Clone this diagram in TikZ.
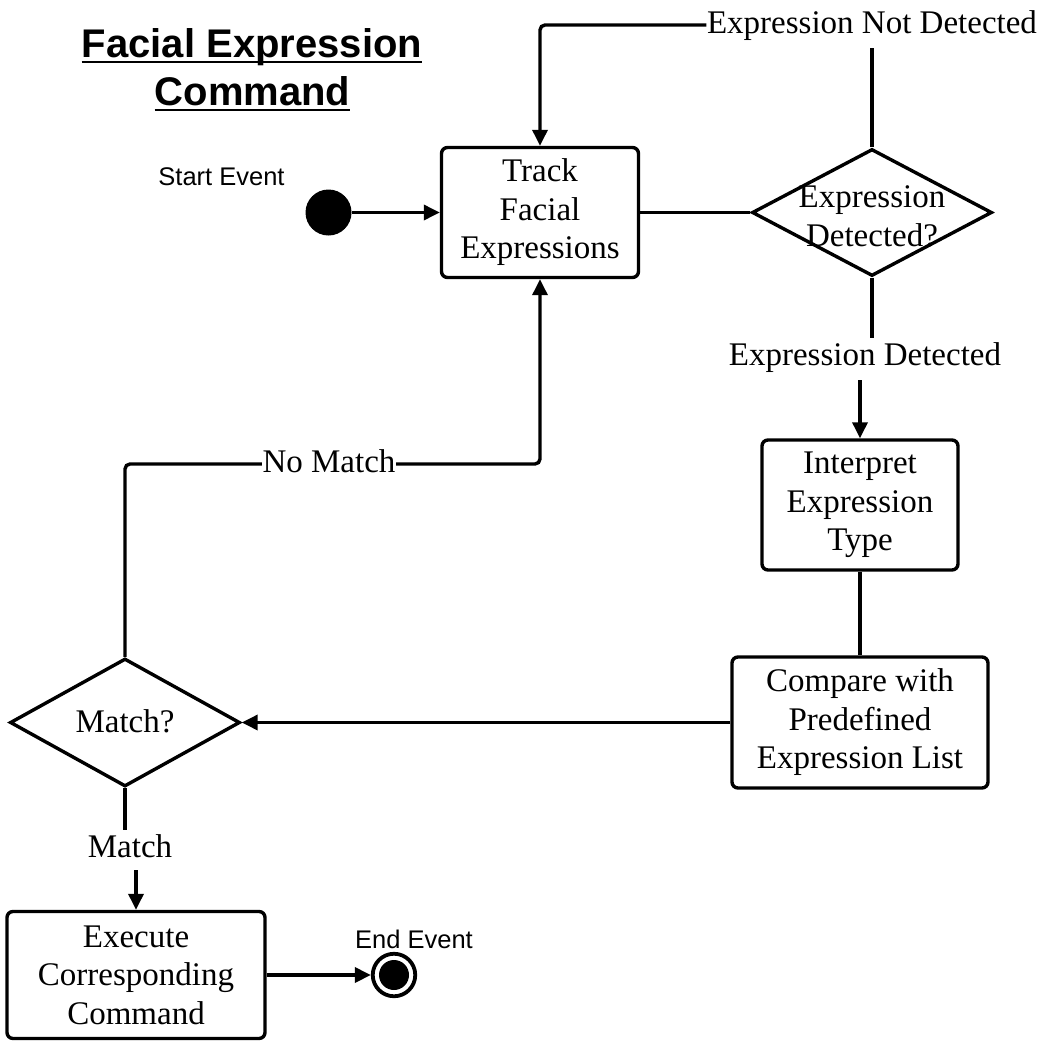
\documentclass[tikz,border=0pt]{standalone}
\usepackage{fontspec}
\setmainfont{Liberation Serif}
\setsansfont{Liberation Sans}
\usetikzlibrary{shapes.geometric,arrows.meta}

\newcommand\bodyfont{\fontsize{33bp}{38.5bp}\selectfont}
\newcommand\titlefont{\sffamily\bfseries\fontsize{40bp}{47bp}\selectfont}
\newcommand\eventfont{\sffamily\fontsize{25.5bp}{30bp}\selectfont}

\begin{document}
\begin{tikzpicture}[x=1bp, y=-1bp, font=\bodyfont,
  stepbox/.style={draw, line width=3.4bp, rounded corners=6bp, align=center, inner sep=0pt},
  decision/.style={diamond, draw, line width=3.4bp, inner sep=0pt, miter limit=20},
  lab/.style={inner xsep=0.5bp, inner ysep=4bp, text height=23bp, text depth=7bp, anchor=base},
  conn/.style={line width=3.4bp, rounded corners=5bp},
  arr/.style={conn, -{Triangle[length=16bp, width=15bp]}},
  titleline/.style={font=\titlefont, inner sep=0pt, anchor=base},
  eventlab/.style={font=\eventfont, inner sep=0pt, anchor=base},
]
\fill[white] (0,0) rectangle (1045,1046);
\useasboundingbox (0,0) rectangle (1045,1046);

% title
\node[titleline] (title1) at (252,57) {Facial Expression};
\node[titleline] (title2) at (252.5,105) {Command};
\draw[line width=2.7bp] ([yshift=-5bp]title1.base west) -- ([yshift=-5bp]title1.base east);
\draw[line width=2.7bp] ([yshift=-5bp]title2.base west) -- ([yshift=-5bp]title2.base east);

% start and end events
\node[eventlab] (startlab) at (221.5,185) {Start Event};
\node[circle, fill=black, minimum size=46bp, inner sep=0pt] (start) at (328.5,212.5) {};
\node[eventlab] (endlab) at (414,948) {End Event};
\node[circle, draw, line width=3.8bp, minimum size=42.5bp, inner sep=0pt,
      path picture={\fill (path picture bounding box.center) circle[radius=15bp];}]
      (end) at (394,975) {};

% activities
\node[stepbox, minimum width=197bp, minimum height=130bp] (track) at (540,212.5)
  {Track\\Facial\\Expressions};
\node[stepbox, minimum width=196bp, minimum height=130bp] (interp) at (860,505)
  {Interpret\\Expression\\Type};
\node[stepbox, minimum width=256bp, minimum height=131bp] (comp) at (860,722.5)
  {Compare with\\Predefined\\Expression List};
\node[stepbox, minimum width=258bp, minimum height=127bp] (exec) at (136,975)
  {Execute\\Corresponding\\Command};

% decisions
\node[decision, minimum width=240bp, minimum height=127bp,
      label={[name=d1text, align=center, yshift=-4bp]center:Expression\\Detected?}] (d1) at (872,212.5) {};
\node[decision, minimum width=230bp, minimum height=128bp,
      label={[name=d2text, yshift=1bp]center:Match?}] (d2) at (125,722.5) {};

% guard labels
\node[lab] (notdet) at (872,33) {Expression Not Detected};
\node[lab] (det) at (865,365) {Expression Detected};
\node[lab] (nomatch) at (329,472) {No Match};
\node[lab] (match) at (130,857) {Match};

% flows
\draw[arr] (start) -- (track);
\draw[conn] (track) -- (d1);
\draw[conn, shorten >=4bp] (d1.north) -- (notdet.south);
\draw[arr] (notdet.west) -| (track.north);
\draw[conn] (d1.south) -- (d1.south |- det.north);
\draw[arr, shorten <=4bp] (interp.north |- det.south) -- (interp.north);
\draw[conn] (interp.south) -- (comp.north);
\draw[arr] (comp.west) -- (d2.east);
\draw[conn] (d2.north) |- (nomatch.west);
\draw[arr] (nomatch.east) -| (track.south);
\draw[conn] (d2.south) -- (d2.south |- match.north);
\draw[arr, shorten <=2bp] (exec.north |- match.south) -- (exec.north);
\draw[arr] (exec.east |- end) -- (end.west);
\end{tikzpicture}
\end{document}
